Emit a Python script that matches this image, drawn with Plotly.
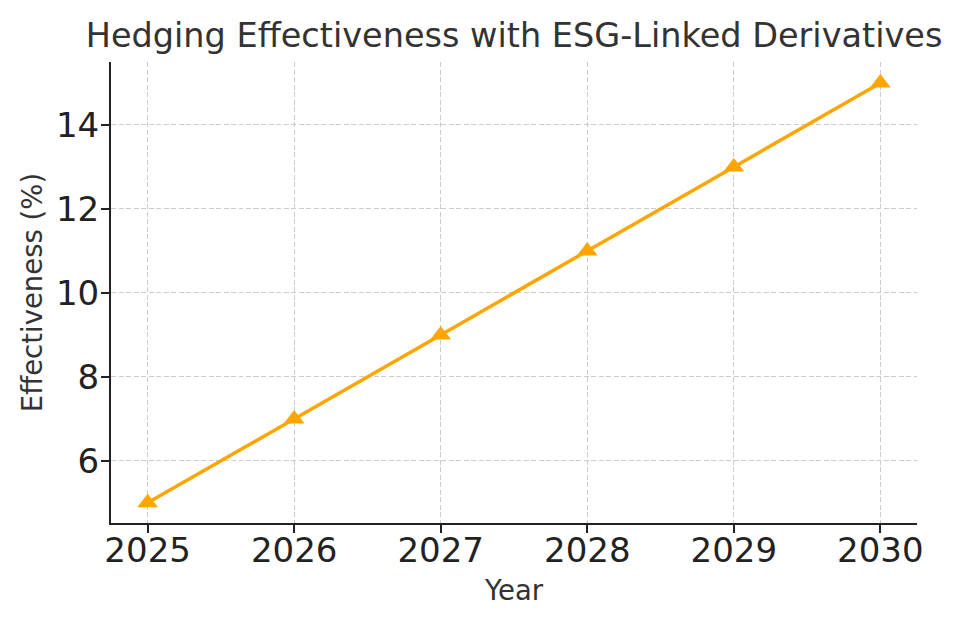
import plotly.graph_objects as go

years = [2025, 2026, 2027, 2028, 2029, 2030]
effectiveness = [5, 7, 9, 11, 13, 15]
y_ticks = [6, 8, 10, 12, 14]

fig = go.Figure()
fig.add_trace(go.Scatter(
    x=years, y=effectiveness, mode="lines+markers",
    line=dict(color="#FFA500", width=3.5),
    marker=dict(symbol="triangle-up", size=18, color="#FFA500"),
    showlegend=False,
))

axis_common = dict(
    showline=True, linecolor="#222222", linewidth=2,
    ticks="outside", ticklen=8, tickwidth=2, tickcolor="#222222",
    showgrid=True, gridcolor="#cccccc", gridwidth=1.3, griddash="5px,2.5px",
    zeroline=False, mirror=False,
    tickfont=dict(family="DejaVu Sans", size=34, color="#222222"),
)

fig.update_layout(
    width=953, height=618,
    margin=dict(l=103, r=44, t=54, b=103),
    paper_bgcolor="white", plot_bgcolor="white",
    title=dict(text="Hedging Effectiveness with ESG-Linked Derivatives",
               font=dict(family="DejaVu Sans", size=33.5, color="#333333"),
               x=0.531, xanchor="center", y=0.956, yanchor="middle"),
    xaxis=dict(range=[2024.75, 2030.25], tickvals=years, ticklabelstandoff=-12,
               title=dict(text="Year", font=dict(family="DejaVu Sans", size=27.5, color="#333333"), standoff=12),
               **axis_common),
    yaxis=dict(range=[4.52, 15.5], tickvals=y_ticks, ticklabelstandoff=-5,
               title=dict(text="Effectiveness (%)", font=dict(family="DejaVu Sans", size=27.5, color="#333333"), standoff=5),
               **axis_common),
)

fig.write_html("out.html")
